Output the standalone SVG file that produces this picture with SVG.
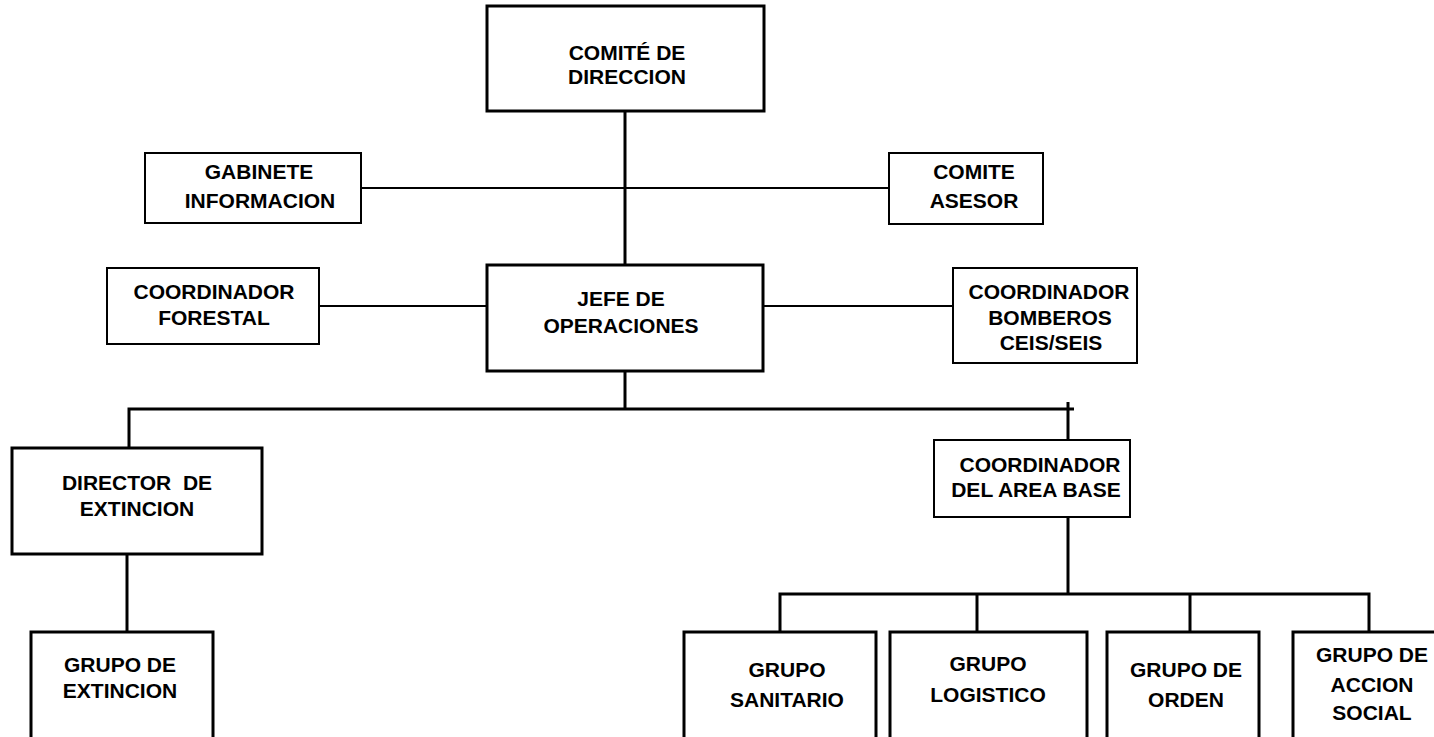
<svg xmlns="http://www.w3.org/2000/svg" width="1434" height="737" viewBox="0 0 1434 737">
<style>
.b{fill:#fff;stroke:#000;stroke-width:3}
.t{fill:#fff;stroke:#000;stroke-width:2}
.l{stroke:#000;stroke-width:3;fill:none}
.m{stroke:#000;stroke-width:2;fill:none}
text{font-family:"Liberation Sans",Arial,sans-serif;font-weight:bold;font-size:21px;text-anchor:middle;fill:#000}
</style>
<rect width="1434" height="737" fill="#fff"/>
<g id="connectors">
<line class="l" x1="625" y1="111" x2="625" y2="265"/>
<line class="m" x1="361" y1="188" x2="889" y2="188"/>
<line class="m" x1="319" y1="306" x2="493" y2="306"/>
<line class="m" x1="761" y1="306" x2="953" y2="306"/>
<line class="l" x1="625" y1="371" x2="625" y2="409"/>
<polyline class="l" points="129,448 129,409 1074,409"/>
<line class="l" x1="1068" y1="402" x2="1068" y2="440"/>
<line class="l" x1="127" y1="554" x2="127" y2="632"/>
<line class="l" x1="1068" y1="517" x2="1068" y2="594"/>
<polyline class="l" points="780,632 780,594 1369,594 1369,632"/>
<line class="l" x1="977" y1="594" x2="977" y2="632"/>
<line class="l" x1="1190" y1="594" x2="1190" y2="632"/>
</g>
<g id="comite-direccion"><rect class="b" x="487" y="6" width="277" height="105"/><text x="627" y="60">COMITÉ DE</text><text x="627" y="84">DIRECCION</text></g>
<g id="gabinete"><rect class="t" x="145" y="153" width="216" height="70"/><text x="259" y="179">GABINETE</text><text x="260" y="208">INFORMACION</text></g>
<g id="comite-asesor"><rect class="t" x="889" y="153" width="154" height="71"/><text x="974" y="179">COMITE</text><text x="974" y="208">ASESOR</text></g>
<g id="jefe"><rect class="b" x="487" y="265" width="276" height="106"/><text x="621" y="306">JEFE DE</text><text x="621" y="333">OPERACIONES</text></g>
<g id="coord-forestal"><rect class="t" x="107" y="268" width="212" height="76"/><text x="214" y="299">COORDINADOR</text><text x="214" y="325">FORESTAL</text></g>
<g id="coord-bomberos"><rect class="t" x="953" y="268" width="184" height="95"/><text x="1049" y="299">COORDINADOR</text><text x="1050" y="325">BOMBEROS</text><text x="1051" y="350">CEIS/SEIS</text></g>
<g id="director"><rect class="b" x="12" y="448" width="250" height="106"/><text x="137" y="490" xml:space="preserve">DIRECTOR  DE</text><text x="137" y="516">EXTINCION</text></g>
<g id="coord-area"><rect class="t" x="934" y="440" width="196" height="77"/><text x="1040" y="472">COORDINADOR</text><text x="1036" y="497">DEL AREA BASE</text></g>
<g id="grupo-extincion"><rect class="b" x="31" y="632" width="182" height="110"/><text x="120" y="672">GRUPO DE</text><text x="120" y="698">EXTINCION</text></g>
<g id="grupo-sanitario"><rect class="b" x="684" y="632" width="192" height="110"/><text x="787" y="677">GRUPO</text><text x="787" y="707">SANITARIO</text></g>
<g id="grupo-logistico"><rect class="b" x="890" y="632" width="197" height="110"/><text x="988" y="671">GRUPO</text><text x="988" y="702">LOGISTICO</text></g>
<g id="grupo-orden"><rect class="b" x="1107" y="632" width="152" height="110"/><text x="1186" y="677">GRUPO DE</text><text x="1186" y="707">ORDEN</text></g>
<g id="grupo-accion"><rect class="b" x="1293" y="632" width="150" height="110"/><text x="1372" y="662">GRUPO DE</text><text x="1372" y="692">ACCION</text><text x="1372" y="720">SOCIAL</text></g>
</svg>
